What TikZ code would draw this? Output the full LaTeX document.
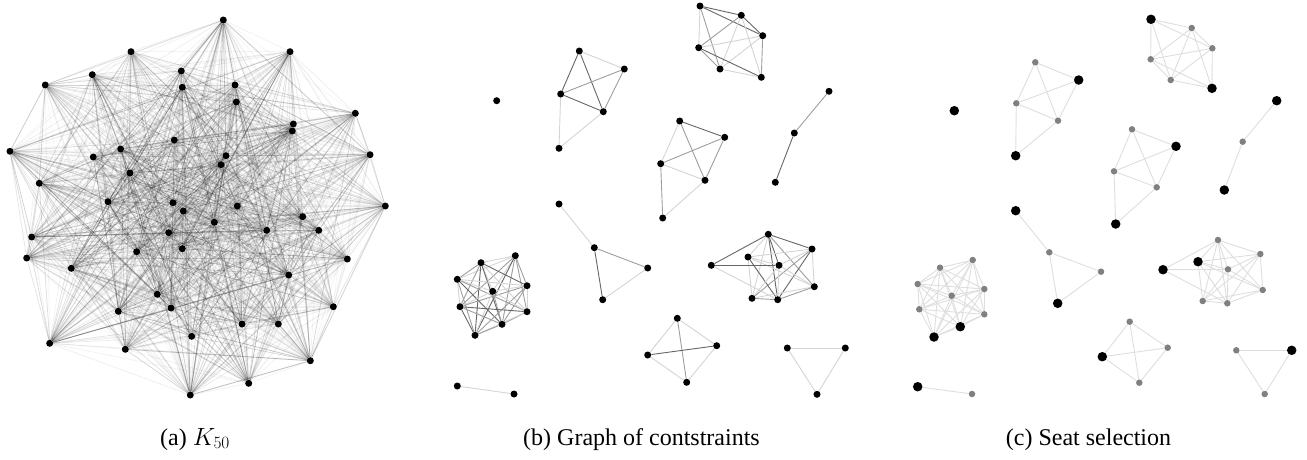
\documentclass[tikz,border=0pt]{standalone}
\usepackage{fontspec}
\setmainfont{Liberation Serif}
\pgfdeclarelayer{edgelayer}
\pgfsetlayers{edgelayer,main}
\begin{document}
\begin{tikzpicture}[x=1pt,y=-1pt,
  knode/.style={circle,fill=black,inner sep=0pt,minimum size=7pt},
  bnode/.style={circle,fill=black,inner sep=0pt,minimum size=7pt},
  cbig/.style={circle,fill=black,inner sep=0pt,minimum size=9.5pt},
  csmall/.style={circle,fill=black!50,inner sep=0pt,minimum size=6.5pt},
  edk/.style={draw=black!60,line width=0.9pt},
  edm/.style={draw=black!38,line width=0.9pt},
  edl/.style={draw=black!17,line width=0.9pt},
  cedge/.style={draw=black!13,line width=0.9pt},
  captext/.style={anchor=base,inner sep=0pt,font=\fontsize{24}{28}\selectfont}
]
\useasboundingbox (0,0) rectangle (1307,459);
% ---------------- panel (a): K50 ----------------
\foreach \x/\y [count=\i] in {
 223.3/20, 131/51.7, 290/51.7, 92.3/74.7, 181.3/71, 45.3/85, 182.3/87.3, 235/85,
 236.3/102, 355.3/113.3, 293.3/124, 292.3/131, 10/151.3, 174.3/140, 120.7/149,
 93.3/157, 226/155.7, 221/164.7, 370/154.7, 130/173, 39.3/183.3, 108/201.7,
 173/202.7, 183.3/211, 237.3/206, 385.3/206, 302.7/216.7, 214.3/222.3,
 266.7/230.3, 318.7/230.3, 168.7/232.7, 31.7/237, 136.7/251.7, 182.3/248.7,
 26.7/258, 347.3/259, 71.3/268.3, 288.7/275, 157.3/294.3, 118.3/311.3,
 171/308, 333.3/306.7, 242/324, 278.3/324, 191.7/336.3, 49.7/343.3,
 125.3/349.3, 310.3/360.7, 248.7/383.3, 190.3/395}
 {\node[knode] (k\i) at (\x,\y) {};}
\pgfmathsetseed{7}
\begin{pgfonlayer}{edgelayer}
\foreach \i in {1,...,49}{
  \pgfmathtruncatemacro\jst{\i+1}
  \foreach \j in {\jst,...,50}{
    \pgfmathsetmacro\op{0.03+0.24*rnd*rnd}
    \draw[black,line width=0.8pt,draw opacity=\op] (k\i) -- (k\j);
  }
}
\end{pgfonlayer}
% ---------------- panel (b) ----------------
\foreach \n/\x/\y in {
 Z/496.7/100.7,
 A1/579.3/51, A2/624.3/69, A3/560.7/94, A4/603.3/111.7, A5/559/148.3,
 B1/700/6, B2/741.3/15.3, B3/762.7/35.7, B4/698.7/47.7, B5/720/69, B6/761.3/77.3,
 C1/829/91.3, C2/794.3/133, C3/775.3/182.3,
 D1/679.7/121, D2/724.7/137.3, D3/660.7/163.7, D4/705/180.3, D5/662.7/218,
 E1/559/204, E2/594.3/247.7, E3/647.7/268, E4/602.7/299.7,
 F1/515.3/255.7, F2/481/262.7, F3/457.3/279.3, F4/527/285.7, F5/492.7/291.3,
 F6/460/306.7, F7/527/311.7, F8/502/324.3, F9/475/335.3,
 G1/457.3/386, G2/514/394,
 H1/768.3/234.3, H2/812/249, H3/748/257, H4/711.3/265.3, H5/779/265.3,
 H6/814.3/286.7, H7/752/298.3, H8/777.7/299.7,
 I1/677.3/318.3, I2/716.7/345.7, I3/647.7/355, I4/686.7/382.3,
 J1/787.3/348, J2/845.3/348, J3/817/394.3}
 {\node[bnode] (b\n) at (\x,\y) {};}
% ---------------- panel (c) ----------------
\foreach \n/\x/\y in {
 Z/954.3/110.7, A2/1078.7/80, A5/1015.7/155.7, B1/1151/19.3, B6/1212/88.3,
 C1/1276.7/100.7, C3/1224.3/190, D2/1176/146.3, D5/1115.7/224,
 E1/1015.7/210.7, E4/1057.7/303.3, F8/960.3/326.7, F9/934/337,
 G1/917.7/386.7, H3/1198/261.7, H4/1163/269.7, I3/1102.3/356.7, J2/1291.7/350.3}
 {\node[cbig] (c\n) at (\x,\y) {};}
\foreach \n/\x/\y in {
 A1/1035.3/62.3, A3/1016.3/103.3, A4/1058/120.7,
 B2/1191.7/28, B3/1212.3/48.3, B4/1150.7/59.3, B5/1170.7/80,
 C2/1242.7/141.7,
 D1/1132/129.3, D3/1114/171.3, D4/1156.7/187.3,
 E2/1049.3/252.3, E3/1101/271.7,
 F1/972.7/260, F2/940/267.7, F3/917.7/284, F4/984.3/289, F5/951.7/295.7,
 F6/919.3/309.3, F7/984.3/314.3,
 G2/972/394,
 H1/1218/240, H2/1260.3/254, H5/1228/269.3, H6/1262.7/290, H7/1202.7/301, H8/1227.3/303.3,
 I1/1129.7/321.7, I2/1167.7/347.7, I4/1139.3/382.7,
 J1/1236.3/350.3, J3/1264.7/394}
 {\node[csmall] (c\n) at (\x,\y) {};}
% ---------------- constraint edges (b) and (c) ----------------
\begin{pgfonlayer}{edgelayer}
\foreach \u/\v/\s in {
 A1/A2/l, A1/A3/k, A1/A4/k, A2/A3/m, A2/A4/m, A3/A4/k, A3/A5/l, A4/A5/l,
 B1/B2/k, B1/B3/k, B1/B4/l, B1/B5/m, B2/B3/k, B2/B4/m, B2/B5/l, B2/B6/l,
 B3/B4/l, B3/B5/l, B3/B6/m, B4/B5/m, B4/B6/k, B5/B6/l,
 C1/C2/m, C2/C3/k,
 D1/D2/k, D1/D3/l, D1/D4/m, D2/D3/m, D2/D4/m, D3/D4/l, D3/D5/m, D4/D5/l,
 E1/E2/l, E2/E3/m, E2/E4/k, E3/E4/l,
 F1/F2/l, F1/F3/l, F1/F4/m, F1/F5/l, F1/F6/m, F1/F7/m, F1/F8/m, F1/F9/k,
 F2/F3/m, F2/F4/k, F2/F5/l, F2/F6/m, F2/F7/l, F2/F8/k, F2/F9/k,
 F3/F4/l, F3/F5/l, F3/F6/l, F3/F7/m, F3/F8/k, F3/F9/m,
 F4/F5/l, F4/F6/m, F4/F7/l, F4/F8/m, F4/F9/m,
 F5/F6/l, F5/F7/l, F5/F8/m, F5/F9/l,
 F6/F7/k, F6/F8/m, F6/F9/k, F7/F8/m, F7/F9/l, F8/F9/m,
 G1/G2/l,
 H1/H2/k, H1/H3/l, H1/H4/k, H1/H5/k, H1/H6/m, H1/H7/l, H1/H8/k,
 H2/H3/l, H2/H5/l, H2/H6/l, H2/H7/m, H2/H8/k,
 H3/H5/l, H3/H6/l, H3/H7/l, H3/H8/k, H4/H5/k, H4/H8/l,
 H5/H6/l, H5/H7/l, H5/H8/l, H6/H7/l, H6/H8/m, H7/H8/m,
 I1/I2/l, I1/I3/l, I1/I4/m, I2/I3/k, I2/I4/l, I3/I4/l,
 J1/J2/l, J1/J3/l, J2/J3/l}
 {\draw[ed\s] (b\u) -- (b\v);
  \draw[cedge] (c\u) -- (c\v);}
\end{pgfonlayer}
% ---------------- captions ----------------
\node[captext] (capa) at (195,445) {(a) $K_{50}$};
\node[captext] (capb) at (641.5,445) {(b) Graph of contstraints};
\node[captext] (capc) at (1088.5,445) {(c) Seat selection};
\end{tikzpicture}
\end{document}
